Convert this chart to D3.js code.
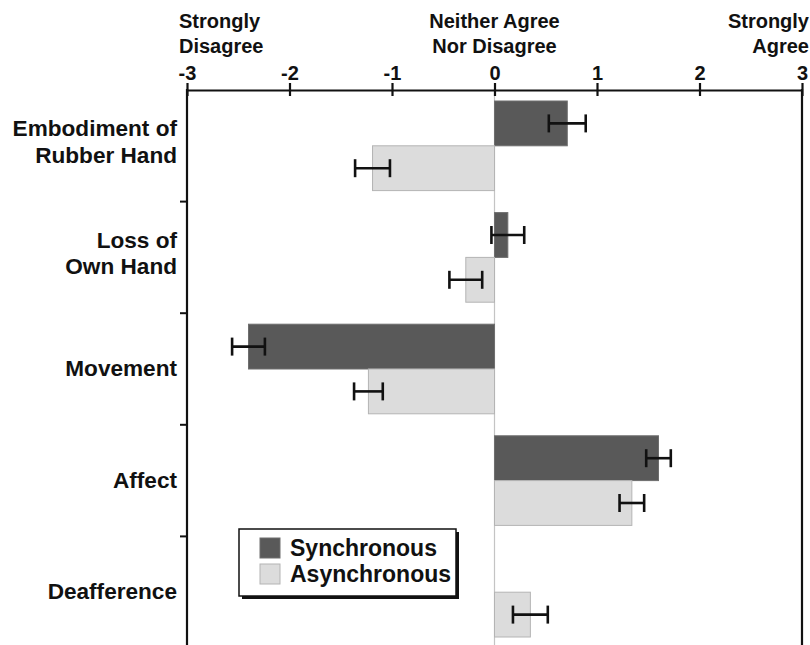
<!DOCTYPE html>
<html>
<head>
<meta charset="utf-8">
<script src="https://cdn.jsdelivr.net/npm/d3@7/dist/d3.min.js"></script>
<style>
  html, body { margin:0; padding:0; background:#fff; }
  svg { display:block; font-family:"Liberation Sans", Arial, sans-serif; font-weight:bold; }
</style>
</head>
<body>
<div id="chart"></div>
<script>
// Rubber hand questionnaire: mean rating per category, sync vs async
const categories = ['Embodiment of|Rubber Hand', 'Loss of|Own Hand', 'Movement', 'Affect', 'Deafference'];
const series = ['Synchronous', 'Asynchronous'];
const syncMeans = [0.71, 0.13, -2.40, 1.60, 0];
const syncErr   = [0.18, 0.16, 0.16, 0.12, null];
const asyncMeans = [-1.19, -0.28, -1.23, 1.34, 0.35];
const asyncErr   = [0.17, 0.16, 0.14, 0.12, 0.17];
const tickValues = [-3, -2, -1, 0, 1, 2, 3];
const scaleLabels = [
  {value: -3, lines: ['Strongly', 'Disagree'], anchor: 'start'},
  {value: 0, lines: ['Neither Agree', 'Nor Disagree'], anchor: 'middle'},
  {value: 3, lines: ['Strongly', 'Agree'], anchor: 'end'}
];

(function(){
  const width = 810, height = 645;
  const left = 187, right = 802, top = 90, bottom = 648;
  const colors = {Synchronous: '#595959', Asynchronous: '#dcdcdc'};
  const strokes = {Synchronous: '#6e6e6e', Asynchronous: '#b4b4b4'};

  const rows = [];
  categories.forEach((c, i) => {
    rows.push({cat: c, s: 'Synchronous', v: syncMeans[i], e: syncErr[i]});
    rows.push({cat: c, s: 'Asynchronous', v: asyncMeans[i], e: asyncErr[i]});
  });

  const svg = d3.select('#chart').append('svg')
    .attr('width', width)
    .attr('height', height);

  const x = d3.scaleLinear().domain([-3, 3]).range([left, right]);
  const y0 = d3.scaleBand().domain(categories).range([top, bottom]);
  const y1 = d3.scaleBand().domain(series).range([11, y0.bandwidth() - 11]);

  // zero reference line
  svg.append('line')
    .attr('x1', x(0)).attr('x2', x(0))
    .attr('y1', top).attr('y2', bottom)
    .attr('stroke', '#c4c4c4').attr('stroke-width', 1.2);

  // bars
  svg.append('g').selectAll('rect')
    .data(rows.filter(d => d.v !== 0))
    .enter().append('rect')
    .attr('x', d => x(Math.min(0, d.v)))
    .attr('y', d => y0(d.cat) + y1(d.s))
    .attr('width', d => Math.abs(x(d.v) - x(0)))
    .attr('height', y1.bandwidth())
    .attr('fill', d => colors[d.s])
    .attr('stroke', d => strokes[d.s])
    .attr('stroke-width', 1);

  // error bars
  const eb = svg.append('g').selectAll('g')
    .data(rows.filter(d => d.e != null))
    .enter().append('g')
    .attr('stroke', '#111')
    .attr('stroke-width', 2.6);
  eb.append('line')
    .attr('x1', d => x(d.v - d.e)).attr('x2', d => x(d.v + d.e))
    .attr('y1', d => y0(d.cat) + y1(d.s) + y1.bandwidth() / 2)
    .attr('y2', d => y0(d.cat) + y1(d.s) + y1.bandwidth() / 2);
  [-1, 1].forEach(sgn => {
    eb.append('line')
      .attr('x1', d => x(d.v + sgn * d.e)).attr('x2', d => x(d.v + sgn * d.e))
      .attr('y1', d => y0(d.cat) + y1(d.s) + y1.bandwidth() / 2 - 9)
      .attr('y2', d => y0(d.cat) + y1(d.s) + y1.bandwidth() / 2 + 9);
  });

  // top axis
  const ax = svg.append('g')
    .attr('transform', `translate(0,${top})`)
    .call(d3.axisTop(x).tickValues(tickValues).tickFormat(d => String(d)).tickSizeOuter(0));
  ax.select('.domain').attr('stroke', '#111').attr('stroke-width', 2.2);
  ax.selectAll('.tick line')
    .attr('y1', 6).attr('y2', -7)
    .attr('stroke', '#111').attr('stroke-width', 2.2);
  ax.selectAll('.tick text')
    .attr('y', -10).attr('dy', 0)
    .attr('fill', '#111')
    .style('font-size', '20px')
    .style('font-family', '"Liberation Sans", Arial, sans-serif')
    .style('font-weight', 'bold');

  // left and right frame lines
  svg.append('line')
    .attr('x1', left).attr('x2', left).attr('y1', top - 1).attr('y2', bottom)
    .attr('stroke', '#111').attr('stroke-width', 2.2);
  svg.append('line')
    .attr('x1', right).attr('x2', right).attr('y1', top - 1).attr('y2', bottom)
    .attr('stroke', '#111').attr('stroke-width', 2.2);

  // category ticks on left (band boundaries)
  const bounds = categories.map(c => y0(c)).slice(1).concat([bottom]);
  svg.append('g').selectAll('line')
    .data(bounds)
    .enter().append('line')
    .attr('x1', left - 7).attr('x2', left)
    .attr('y1', d => d).attr('y2', d => d)
    .attr('stroke', '#111').attr('stroke-width', 2);

  // category labels
  const cl = svg.append('g').selectAll('text')
    .data(categories)
    .enter().append('text')
    .attr('text-anchor', 'end')
    .attr('fill', '#111')
    .style('font-size', '22.6px');
  cl.each(function(c){
    const lines = c.split('|');
    const cy = y0(c) + y0.bandwidth() / 2;
    const t = d3.select(this);
    if (lines.length === 1) {
      t.append('tspan').attr('x', 177).attr('y', cy + 7).text(lines[0]);
    } else {
      t.append('tspan').attr('x', 177).attr('y', cy - 9.5).text(lines[0]);
      t.append('tspan').attr('x', 177).attr('y', cy + 17).text(lines[1]);
    }
  });

  // scale anchor labels above the axis
  scaleLabels.forEach(s => {
    const tx = s.anchor === 'start' ? x(s.value) - 8 : s.anchor === 'end' ? x(s.value) + 7 : x(s.value);
    const t = svg.append('text')
      .attr('text-anchor', s.anchor)
      .attr('fill', '#111')
      .style('font-size', '20px');
    s.lines.forEach((l, i) => {
      t.append('tspan').attr('x', tx).attr('y', 28 + i * 25).text(l);
    });
  });

  // legend
  const lg = svg.append('g').attr('transform', 'translate(239,529)');
  lg.append('rect')
    .attr('x', 3).attr('y', 3).attr('width', 217).attr('height', 67)
    .attr('fill', '#111');
  lg.append('rect')
    .attr('width', 217).attr('height', 67)
    .attr('fill', '#fff').attr('stroke', '#111').attr('stroke-width', 1.5);
  series.forEach((s, i) => {
    const row = lg.append('g').attr('transform', `translate(21,${9 + i * 26})`);
    row.append('rect')
      .attr('width', 20).attr('height', 20)
      .attr('fill', colors[s])
      .attr('stroke', strokes[s]);
    row.append('text')
      .attr('x', 30).attr('y', 18)
      .attr('fill', '#111')
      .style('font-size', '23px')
      .text(s);
  });
})();
</script>
</body>
</html>
